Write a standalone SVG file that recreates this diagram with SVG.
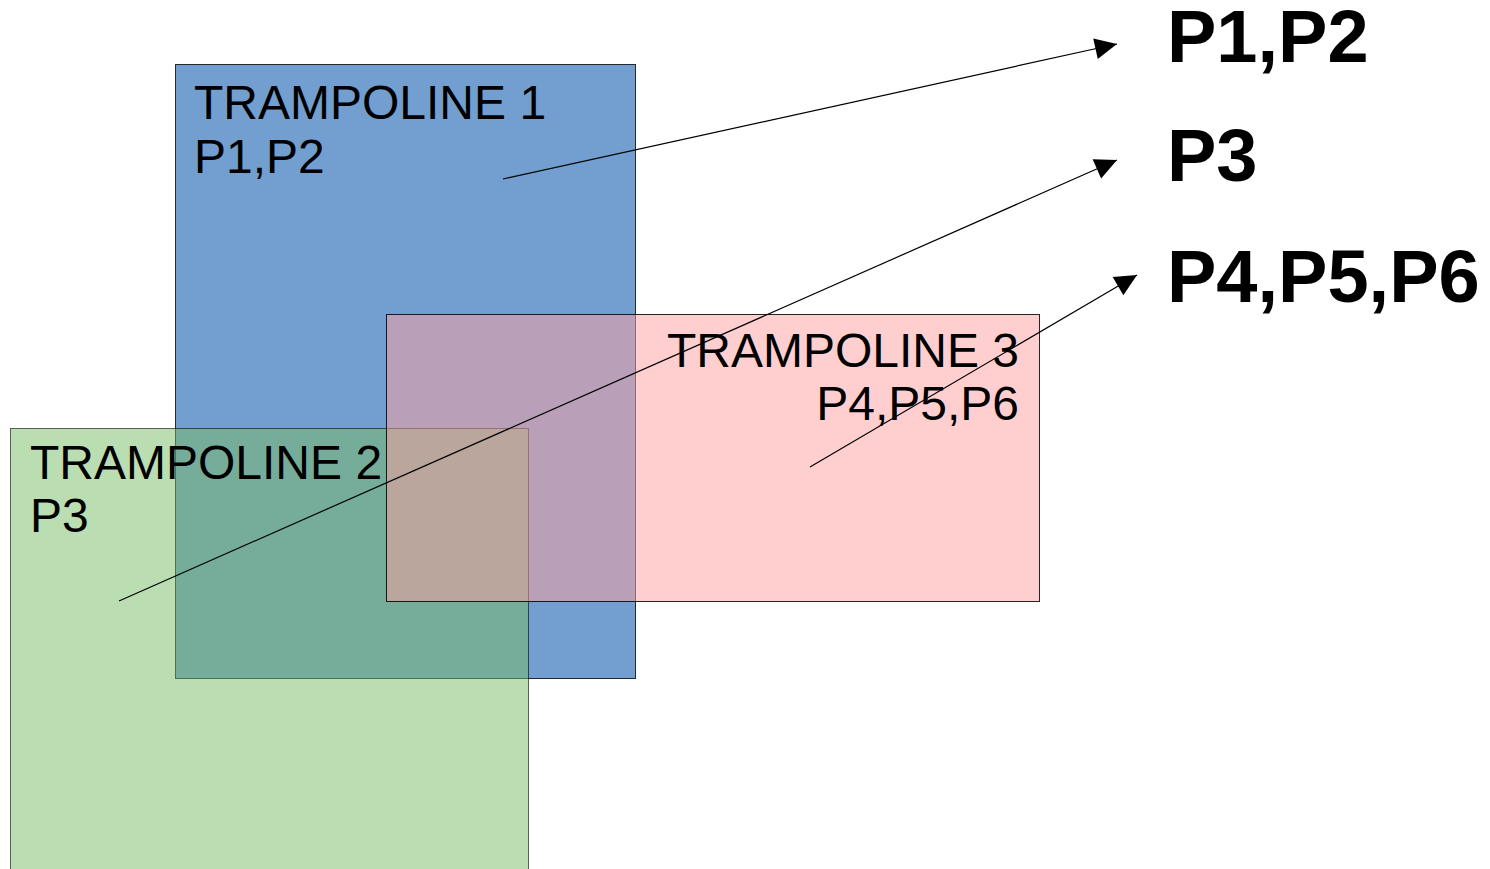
<svg xmlns="http://www.w3.org/2000/svg" width="1490" height="869" viewBox="0 0 1490 869">
  <defs>
    <marker id="arrow" markerUnits="userSpaceOnUse" markerWidth="24" markerHeight="22" refX="22" refY="10.5" orient="auto" overflow="visible">
      <path d="M0,0 L22,10.5 L0,21 Z" fill="#000"/>
    </marker>
  </defs>
  <style>
    .box { stroke: #000; stroke-width: 1; }
    .lbl { font-family: "Liberation Sans", Arial, sans-serif; font-size: 48px; fill: #000; }
    .big { font-family: "Liberation Sans", Arial, sans-serif; font-size: 74px; font-weight: bold; fill: #000; }
    .conn { stroke: #000; stroke-width: 1.2; fill: none; marker-end: url(#arrow); }
  </style>

  <!-- trampoline 1: opaque blue -->
  <g id="trampoline1">
    <rect class="box" x="175.5" y="64.5" width="460" height="614" fill="#729fcf" stroke-opacity="0.8"/>
  </g>

  <!-- trampoline 2: translucent green -->
  <g id="trampoline2">
    <rect class="box" x="10.5" y="428.5" width="518" height="450" fill="#77bc65" fill-opacity="0.5" stroke-opacity="0.6"/>
  </g>

  <!-- trampoline 3: translucent red -->
  <g id="trampoline3">
    <rect class="box" x="386.5" y="314.5" width="653" height="287" fill="#ff9f9f" fill-opacity="0.5" stroke-opacity="0.85"/>
  </g>

  <!-- labels inside the trampolines -->
  <g id="label1">
    <text class="lbl" x="194" y="119">TRAMPOLINE 1</text>
    <text class="lbl" x="194" y="173">P1,P2</text>
  </g>
  <g id="label2">
    <text class="lbl" x="30" y="479">TRAMPOLINE 2</text>
    <text class="lbl" x="30" y="532">P3</text>
  </g>
  <g id="label3">
    <text class="lbl" x="1019" y="367" text-anchor="end">TRAMPOLINE 3</text>
    <text class="lbl" x="1019" y="420" text-anchor="end">P4,P5,P6</text>
  </g>

  <!-- result labels -->
  <g id="out12"><text class="big" x="1167" y="62">P1,P2</text></g>
  <g id="out3"><text class="big" x="1167" y="181">P3</text></g>
  <g id="out456"><text class="big" x="1167" y="302">P4,P5,P6</text></g>

  <!-- connectors -->
  <g id="connectors">
    <line class="conn" x1="503" y1="179" x2="1117" y2="44"/>
    <line class="conn" x1="119" y1="601" x2="1117" y2="160"/>
    <line class="conn" x1="810" y1="467" x2="1137" y2="275"/>
  </g>
</svg>
